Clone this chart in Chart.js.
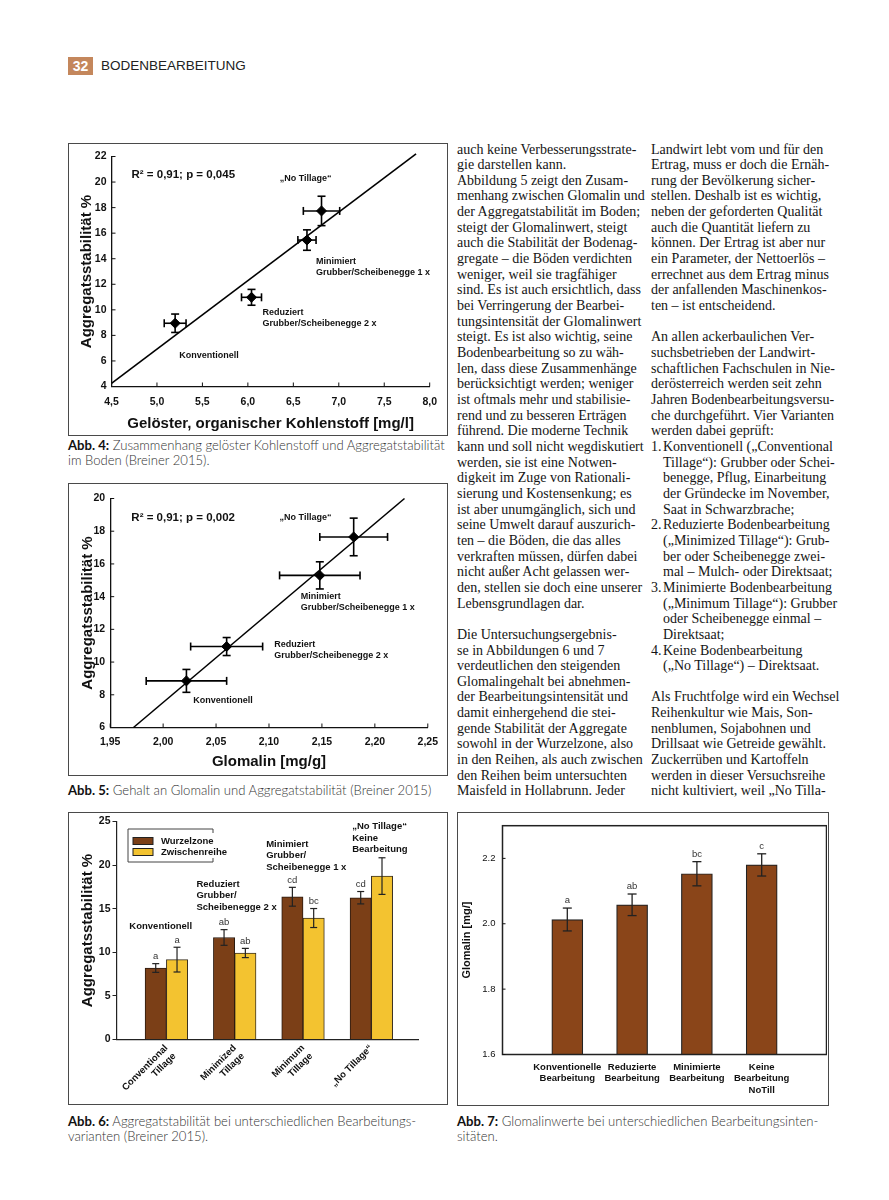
<!DOCTYPE html>
<html lang="de">
<head>
<meta charset="utf-8">
<title>Bodenbearbeitung</title>
<script src="https://cdn.jsdelivr.net/npm/chart.js@4.4.1/dist/chart.umd.min.js"></script>
<style>
  html, body { margin: 0; padding: 0; background: #fff; }
  body { width: 889px; height: 1200px; position: relative; overflow: hidden; font-family: "Liberation Sans", Arial, sans-serif; color: #1a1a1a; }
  .seite { position: absolute; left: 68px; top: 57px; width: 25px; height: 18px; background: #c4875c; color: #fff; font-weight: bold; font-size: 14px; line-height: 18px; text-align: center; }
  .rubrik { position: absolute; left: 101px; top: 57px; font-size: 13.5px; line-height: 18px; color: #222; }
  .box { position: absolute; border: 1.5px solid #4a4a4a; box-sizing: border-box; background: #fff; }
  .box canvas { position: absolute; left: 0; top: 0; }
  .cap { position: absolute; font-family: Lato, "Liberation Sans", sans-serif; font-weight: 300; font-size: 13.1px; line-height: 15px; color: #333; white-space: nowrap; }
  .cap b { color: #111; font-weight: bold; }
  .col { position: absolute; top: 141.5px; font-family: "Liberation Serif", "Times New Roman", serif; font-size: 14px; line-height: 15.67px; color: #151515; white-space: nowrap; }
  .col div { height: 15.67px; }
  .li { padding-left: 12px; }
  .li .nr { position: absolute; left: 0; }
</style>
</head>
<body>

<div class="seite">32</div>
<div class="rubrik">BODENBEARBEITUNG</div>

<div class="box" style="left:68px;top:143px;width:380px;height:293px"><canvas id="abb4" width="377" height="290"></canvas></div>
<div class="cap" style="left:68px;top:438px"><b>Abb. 4:</b> Zusammenhang gelöster Kohlenstoff und Aggregatstabilität<br>im Boden (Breiner 2015).</div>

<div class="box" style="left:68px;top:483px;width:380px;height:293px"><canvas id="abb5" width="377" height="290"></canvas></div>
<div class="cap" style="left:68px;top:782.5px"><b>Abb. 5:</b> Gehalt an Glomalin und Aggregatstabilität (Breiner 2015)</div>

<div class="box" style="left:68px;top:812px;width:380px;height:293px"><canvas id="abb6" width="377" height="290"></canvas></div>
<div class="cap" style="left:68px;top:1113.5px"><b>Abb. 6:</b> Aggregatstabilität bei unterschiedlichen Bearbeitungs-<br>varianten (Breiner 2015).</div>

<div class="box" style="left:457px;top:812px;width:372px;height:294px"><canvas id="abb7" width="369" height="291"></canvas></div>
<div class="cap" style="left:457px;top:1113.5px"><b>Abb. 7:</b> Glomalinwerte bei unterschiedlichen Bearbeitungsinten-<br>sitäten.</div>

<div class="col" style="left:457px">
<div>auch keine Verbesserungsstrate-</div>
<div>gie darstellen kann.</div>
<div>Abbildung 5 zeigt den Zusam-</div>
<div>menhang zwischen Glomalin und</div>
<div>der Aggregatstabilität im Boden;</div>
<div>steigt der Glomalinwert, steigt</div>
<div>auch die Stabilität der Bodenag-</div>
<div>gregate – die Böden verdichten</div>
<div>weniger, weil sie tragfähiger</div>
<div>sind. Es ist auch ersichtlich, dass</div>
<div>bei Verringerung der Bearbei-</div>
<div>tungsintensität der Glomalinwert</div>
<div>steigt. Es ist also wichtig, seine</div>
<div>Bodenbearbeitung so zu wäh-</div>
<div>len, dass diese Zusammenhänge</div>
<div>berücksichtigt werden; weniger</div>
<div>ist oftmals mehr und stabilisie-</div>
<div>rend und zu besseren Erträgen</div>
<div>führend. Die moderne Technik</div>
<div>kann und soll nicht wegdiskutiert</div>
<div>werden, sie ist eine Notwen-</div>
<div>digkeit im Zuge von Rationali-</div>
<div>sierung und Kostensenkung; es</div>
<div>ist aber unumgänglich, sich und</div>
<div>seine Umwelt darauf auszurich-</div>
<div>ten – die Böden, die das alles</div>
<div>verkraften müssen, dürfen dabei</div>
<div>nicht außer Acht gelassen wer-</div>
<div>den, stellen sie doch eine unserer</div>
<div>Lebensgrundlagen dar.</div>
<div></div>
<div>Die Untersuchungsergebnis-</div>
<div>se in Abbildungen 6 und 7</div>
<div>verdeutlichen den steigenden</div>
<div>Glomalingehalt bei abnehmen-</div>
<div>der Bearbeitungsintensität und</div>
<div>damit einhergehend die stei-</div>
<div>gende Stabilität der Aggregate</div>
<div>sowohl in der Wurzelzone, also</div>
<div>in den Reihen, als auch zwischen</div>
<div>den Reihen beim untersuchten</div>
<div>Maisfeld in Hollabrunn. Jeder</div>
</div>

<div class="col" style="left:651px">
<div>Landwirt lebt vom und für den</div>
<div>Ertrag, muss er doch die Ernäh-</div>
<div>rung der Bevölkerung sicher-</div>
<div>stellen. Deshalb ist es wichtig,</div>
<div>neben der geforderten Qualität</div>
<div>auch die Quantität liefern zu</div>
<div>können. Der Ertrag ist aber nur</div>
<div>ein Parameter, der Nettoerlös –</div>
<div>errechnet aus dem Ertrag minus</div>
<div>der anfallenden Maschinenkos-</div>
<div>ten – ist entscheidend.</div>
<div></div>
<div>An allen ackerbaulichen Ver-</div>
<div>suchsbetrieben der Landwirt-</div>
<div>schaftlichen Fachschulen in Nie-</div>
<div>derösterreich werden seit zehn</div>
<div>Jahren Bodenbearbeitungsversu-</div>
<div>che durchgeführt. Vier Varianten</div>
<div>werden dabei geprüft:</div>
<div class="li"><span class="nr">1.</span>Konventionell („Conventional</div>
<div class="li">Tillage“): Grubber oder Schei-</div>
<div class="li">benegge, Pflug, Einarbeitung</div>
<div class="li">der Gründecke im November,</div>
<div class="li">Saat in Schwarzbrache;</div>
<div class="li"><span class="nr">2.</span>Reduzierte Bodenbearbeitung</div>
<div class="li">(„Minimized Tillage“): Grub-</div>
<div class="li">ber oder Scheibenegge zwei-</div>
<div class="li">mal – Mulch- oder Direktsaat;</div>
<div class="li"><span class="nr">3.</span>Minimierte Bodenbearbeitung</div>
<div class="li">(„Minimum Tillage“): Grubber</div>
<div class="li">oder Scheibenegge einmal –</div>
<div class="li">Direktsaat;</div>
<div class="li"><span class="nr">4.</span>Keine Bodenbearbeitung</div>
<div class="li">(„No Tillage“) – Direktsaat.</div>
<div></div>
<div>Als Fruchtfolge wird ein Wechsel</div>
<div>Reihenkultur wie Mais, Son-</div>
<div>nenblumen, Sojabohnen und</div>
<div>Drillsaat wie Getreide gewählt.</div>
<div>Zuckerrüben und Kartoffeln</div>
<div>werden in dieser Versuchsreihe</div>
<div>nicht kultiviert, weil „No Tilla-</div>
</div>

<script>
// Abb. 4 – gelöster Kohlenstoff vs. Aggregatstabilität
const a4Kohlenstoff = [5.2, 6.04, 6.65, 6.81]
const a4KohlenstoffFehler = [0.12, 0.11, 0.1, 0.2]
const a4Stabil = [8.95, 10.98, 15.46, 17.74]
const a4StabilFehler = [0.72, 0.62, 0.8, 1.15]
const a4LinieX = [4.5, 7.85]
const a4LinieY = [4.25, 22.2]
const a4XTicks = [4.5, 5, 5.5, 6, 6.5, 7, 7.5, 8]
const a4YTicks = [4, 6, 8, 10, 12, 14, 16, 18, 20, 22]

// Abb. 5 – Glomalin vs. Aggregatstabilität
const a5Glomalin = [2.022, 2.060, 2.148, 2.180]
const a5GlomalinFehler = [0.038, 0.034, 0.038, 0.032]
const a5Stabil = [8.85, 10.95, 15.3, 17.65]
const a5StabilFehler = [0.7, 0.55, 0.83, 1.15]
const a5LinieX = [1.972, 2.228]
const a5LinieY = [6, 20]
const a5XTicks = [1.95, 2.0, 2.05, 2.1, 2.15, 2.2, 2.25]
const a5YTicks = [6, 8, 10, 12, 14, 16, 18, 20]

// Abb. 6 – Aggregatstabilität je Variante
const a6Varianten = [['Conventional', 'Tillage'], ['Minimized', 'Tillage'], ['Minimum', 'Tillage'], ['„No Tillage“']]
const a6Wurzelzone = [8.2, 11.7, 16.37, 16.26]
const a6WurzelzoneFehler = [0.5, 0.9, 1.08, 0.71]
const a6WurzelzoneSig = ['a', 'ab', 'cd', 'cd']
const a6Zwischenreihe = [9.16, 9.92, 13.93, 18.74]
const a6ZwischenreiheFehler = [1.42, 0.53, 1.09, 2.1]
const a6ZwischenreiheSig = ['a', 'ab', 'bc', '']
const a6YTicks = [0, 5, 10, 15, 20, 25]

// Abb. 7 – Glomalin je Variante
const a7Varianten = [['Konventionelle', 'Bearbeitung'], ['Reduzierte', 'Bearbeitung'], ['Minimierte', 'Bearbeitung'], ['Keine', 'Bearbeitung', 'NoTill']]
const a7Glomalin = [2.013, 2.058, 2.153, 2.18]
const a7GlomalinFehler = [0.035, 0.033, 0.037, 0.034]
const a7Sig = ['a', 'ab', 'bc', 'c']
const a7YTicks = [1.6, 1.8, 2.0, 2.2]

const SANS = '"Liberation Sans", Arial, sans-serif'
Chart.defaults.font.family = SANS
Chart.defaults.color = '#111'
Chart.defaults.animation = false

const fontB = (s) => 'bold ' + s + 'px ' + SANS
const fontN = (s) => s + 'px ' + SANS

// Fehlerbalken + Signifikanzbuchstaben
const fehlerBalken = {
  id: 'fehlerBalken',
  afterDatasetsDraw(chart) {
    const { ctx, scales: { x, y } } = chart
    chart.data.datasets.forEach((ds, i) => {
      if (!ds.errY && !ds.errX) return
      const meta = chart.getDatasetMeta(i)
      ctx.save()
      ctx.strokeStyle = ds.errColor || '#000'
      ctx.lineWidth = ds.errWidth || 1.5
      const cap = ds.errCap || 4
      const strich = (x1, y1, x2, y2) => { ctx.beginPath(); ctx.moveTo(x1, y1); ctx.lineTo(x2, y2); ctx.stroke() }
      meta.data.forEach((el, j) => {
        const roh = ds.data[j]
        const xv = roh.x
        const yv = roh.y
        const cx = el.x
        const cy = y.getPixelForValue(yv)
        let oben = cy
        if (ds.errY) {
          oben = y.getPixelForValue(yv + ds.errY[j])
          const unten = y.getPixelForValue(yv - ds.errY[j])
          strich(cx, oben, cx, unten)
          strich(cx - cap, oben, cx + cap, oben)
          strich(cx - cap, unten, cx + cap, unten)
        }
        if (ds.errX) {
          const links = x.getPixelForValue(xv - ds.errX[j])
          const rechts = x.getPixelForValue(xv + ds.errX[j])
          strich(links, cy, rechts, cy)
          strich(links, cy - cap, links, cy + cap)
          strich(rechts, cy - cap, rechts, cy + cap)
        }
        if (ds.sig && ds.sig[j]) {
          ctx.fillStyle = '#333'
          ctx.font = ds.sigFont || fontN(9)
          ctx.textAlign = 'center'
          ctx.textBaseline = 'bottom'
          ctx.fillText(ds.sig[j], cx, oben - 2.5)
        }
      })
      ctx.restore()
    })
  }
}

// Beschriftungen im Diagramm, in Datenkoordinaten
const notizen = (eintraege) => ({
  id: 'notizen',
  afterDatasetsDraw(chart) {
    const { ctx, scales: { x, y } } = chart
    eintraege.forEach(n => {
      ctx.save()
      ctx.font = n.font || fontB(9)
      ctx.fillStyle = '#111'
      ctx.textAlign = 'left'
      ctx.textBaseline = 'middle'
      const px = x.getPixelForValue(n.x)
      const py = y.getPixelForValue(n.y)
      n.text.forEach((t, k) => ctx.fillText(t, px, py + k * (n.lh || 11)))
      ctx.restore()
    })
  }
})

// Teilstriche nach innen
const innenStriche = (achsen, laenge) => ({
  id: 'innenStriche',
  afterDraw(chart) {
    const { ctx, chartArea: a } = chart
    ctx.save()
    ctx.strokeStyle = '#111'
    ctx.lineWidth = 1
    achsen.forEach(id => {
      const s = chart.scales[id]
      s.ticks.forEach(t => {
        const p = s.getPixelForValue(t.value)
        ctx.beginPath()
        if (id === 'x') { ctx.moveTo(p, a.bottom); ctx.lineTo(p, a.bottom - laenge) } else { ctx.moveTo(a.left, p); ctx.lineTo(a.left + laenge, p) }
        ctx.stroke()
      })
    })
    ctx.restore()
  }
})

const rahmen = {
  id: 'rahmen',
  afterDraw(chart) {
    const { ctx, chartArea: a } = chart
    ctx.save()
    ctx.strokeStyle = '#222'
    ctx.lineWidth = 1.5
    ctx.strokeRect(a.left, a.top, a.right - a.left, a.bottom - a.top)
    ctx.restore()
  }
}

// Legende mit offenem rechten Rand wie im Original
const legende6 = {
  id: 'legende6',
  afterDraw(chart) {
    const { ctx, chartArea: a } = chart
    const bx = a.left + 11.5, by = a.top + 7.5, bw = 85, bh = 33
    ctx.save()
    ctx.strokeStyle = '#444'
    ctx.lineWidth = 1
    ctx.beginPath()
    ctx.moveTo(bx + bw, by + 4); ctx.lineTo(bx + bw, by); ctx.lineTo(bx, by); ctx.lineTo(bx, by + bh); ctx.lineTo(bx + bw, by + bh); ctx.lineTo(bx + bw, by + bh - 4)
    ctx.stroke()
    chart.data.datasets.forEach((ds, i) => {
      const sy = by + 8.5 + i * 11
      ctx.fillStyle = ds.backgroundColor
      ctx.fillRect(bx + 5, sy, 20, 7)
      ctx.strokeStyle = '#222'
      ctx.strokeRect(bx + 5, sy, 20, 7)
      ctx.fillStyle = '#111'
      ctx.font = fontB(9.5)
      ctx.textAlign = 'left'
      ctx.textBaseline = 'middle'
      ctx.fillText(ds.label, bx + 33, sy + 3.5)
    })
    ctx.restore()
  }
}

const setzeTicks = (liste) => (s) => { s.ticks = liste.map(v => ({ value: v })) }
const breite = (w) => (s) => { s.width = w }
const hoehe = (h) => (s) => { s.height = h }

const streuDiagramm = (id, xs, xErr, ys, yErr, linX, linY, xTicks, yTicks, xFmt, xTitel, rand, notes) => {
  new Chart(document.getElementById(id), {
    type: 'scatter',
    data: {
      datasets: [
        {
          data: linX.map((x, i) => ({ x, y: linY[i] })),
          showLine: true, borderColor: '#000', borderWidth: 1.6, pointRadius: 0, clip: false
        },
        {
          data: xs.map((x, i) => ({ x, y: ys[i] })),
          errX: xErr, errY: yErr, errCap: 4, errWidth: 1.6,
          pointStyle: 'rectRot', pointRadius: 5, backgroundColor: '#000', borderColor: '#000'
        }
      ]
    },
    options: {
      responsive: false,
      layout: { padding: { left: rand.left, top: rand.top, right: rand.right, bottom: 0 } },
      plugins: { legend: { display: false }, tooltip: { enabled: false } },
      scales: {
        x: {
          type: 'linear', min: xTicks[0], max: xTicks[xTicks.length - 1],
          afterBuildTicks: setzeTicks(xTicks), afterFit: hoehe(rand.xh),
          grid: { display: false, drawTicks: false }, border: { color: '#111', width: 1.3 },
          ticks: { font: { size: 10.5, weight: 'bold' }, padding: rand.xpad, callback: xFmt, autoSkip: false, maxRotation: 0 },
          title: { display: true, text: xTitel, font: { size: 15, weight: 'bold' }, padding: { top: 0, bottom: rand.tpad } }
        },
        y: {
          type: 'linear', min: yTicks[0], max: yTicks[yTicks.length - 1],
          afterBuildTicks: setzeTicks(yTicks), afterFit: breite(rand.yw),
          grid: { display: false, drawTicks: false }, border: { color: '#111', width: 1.3 },
          ticks: { font: { size: 10.5, weight: 'bold' }, padding: 5, autoSkip: false },
          title: { display: true, text: 'Aggregatsstabilität %', font: { size: 15, weight: 'bold' }, padding: 0 }
        }
      }
    },
    plugins: [fehlerBalken, notizen(notes), innenStriche(['x', 'y'], 4)]
  })
}

streuDiagramm('abb4', a4Kohlenstoff, a4KohlenstoffFehler, a4Stabil, a4StabilFehler, a4LinieX, a4LinieY,
  a4XTicks, a4YTicks, v => v.toFixed(1).replace('.', ','), 'Gelöster, organischer Kohlenstoff [mg/l]',
  { left: 8.5, top: 12.5, right: 10.5, yw: 34, xh: 47.5, xpad: 9, tpad: 1 },
  [
    { x: 4.72, y: 20.6, text: ['R² = 0,91; p = 0,045'], font: fontB(11.5) },
    { x: 6.35, y: 20.28, text: ['„No Tillage“'] },
    { x: 6.75, y: 13.78, text: ['Minimiert', 'Grubber/Scheibenegge 1 x'] },
    { x: 6.16, y: 9.8, text: ['Reduziert', 'Grubber/Scheibenegge 2 x'] },
    { x: 5.245, y: 6.43, text: ['Konventionell'] }
  ])

streuDiagramm('abb5', a5Glomalin, a5GlomalinFehler, a5Stabil, a5StabilFehler, a5LinieX, a5LinieY,
  a5XTicks, a5YTicks, v => v.toFixed(2).replace('.', ','), 'Glomalin [mg/g]',
  { left: 9.5, top: 14.5, right: 13.5, yw: 31.7, xh: 46.5, xpad: 8, tpad: 3 },
  [
    { x: 1.970, y: 18.84, text: ['R² = 0,91; p = 0,002'], font: fontB(11.5) },
    { x: 2.110, y: 18.84, text: ['„No Tillage“'] },
    { x: 2.130, y: 14.0, text: ['Minimiert', 'Grubber/Scheibenegge 1 x'] },
    { x: 2.105, y: 11.08, text: ['Reduziert', 'Grubber/Scheibenegge 2 x'] },
    { x: 2.0285, y: 7.65, text: ['Konventionell'] }
  ])

// Abb. 6
new Chart(document.getElementById('abb6'), {
  type: 'bar',
  data: {
    datasets: [
      {
        label: 'Wurzelzone', data: a6Wurzelzone.map((v, i) => ({ x: i + 1, y: v })),
        backgroundColor: '#7b3f17', borderColor: '#2a1a10', borderWidth: 1, borderSkipped: 'start',
        errY: a6WurzelzoneFehler, errCap: 3.5, errWidth: 1.2, errColor: '#222', sig: a6WurzelzoneSig, sigFont: fontN(9.5)
      },
      {
        label: 'Zwischenreihe', data: a6Zwischenreihe.map((v, i) => ({ x: i + 1, y: v })),
        backgroundColor: '#f3c330', borderColor: '#3a3020', borderWidth: 1, borderSkipped: 'start',
        errY: a6ZwischenreiheFehler, errCap: 3.5, errWidth: 1.2, errColor: '#222', sig: a6ZwischenreiheSig, sigFont: fontN(9.5)
      }
    ]
  },
  options: {
    responsive: false,
    barThickness: 21.3,
    layout: { padding: { left: 9.5, top: 8.5, right: 27.5, bottom: 0 } },
    plugins: { legend: { display: false }, tooltip: { enabled: false } },
    scales: {
      x: {
        type: 'linear', min: 0.27, max: 4.69, offset: false,
        afterBuildTicks: setzeTicks([1, 2, 3, 4]), afterFit: hoehe(63.5),
        grid: { display: false, drawTicks: false }, border: { color: '#222', width: 1.2 },
        ticks: { font: { size: 9.5, weight: 'bold' }, padding: 3, minRotation: 45, maxRotation: 45, autoSkip: false, callback: v => a6Varianten[v - 1] }
      },
      y: {
        min: 0, max: 25,
        afterBuildTicks: setzeTicks(a6YTicks), afterFit: breite(38),
        grid: { display: true, drawOnChartArea: false, tickLength: 4, color: '#222' }, border: { color: '#222', width: 1.2 },
        ticks: { font: { size: 10.5, weight: 'bold' }, padding: 2, autoSkip: false },
        title: { display: true, text: 'Aggregatsstabilität %', font: { size: 15, weight: 'bold' }, padding: 0 }
      }
    }
  },
  plugins: [fehlerBalken, legende6, notizen([
    { x: 0.458, y: 12.96, text: ['Konventionell'], font: fontB(9.5) },
    { x: 1.44, y: 17.8, text: ['Reduziert', 'Grubber/', 'Scheibenegge 2 x'], font: fontB(9.5), lh: 11.5 },
    { x: 2.46, y: 22.4, text: ['Minimiert', 'Grubber/', 'Scheibenegge 1 x'], font: fontB(9.5), lh: 11.5 },
    { x: 3.72, y: 24.4, text: ['„No Tillage“', 'Keine', 'Bearbeitung'], font: fontB(9.5), lh: 11.5 }
  ])]
})

// Abb. 7
new Chart(document.getElementById('abb7'), {
  type: 'bar',
  data: {
    datasets: [{
      label: 'Glomalin', data: a7Glomalin.map((v, i) => ({ x: i + 1, y: v })),
      backgroundColor: '#8a4519', borderColor: '#222', borderWidth: 1.2, borderSkipped: 'start',
      errY: a7GlomalinFehler, errCap: 4.5, errWidth: 1.3, errColor: '#222', sig: a7Sig, sigFont: fontN(9.5)
    }]
  },
  options: {
    responsive: false,
    barThickness: 31,
    layout: { padding: { left: 2, top: 7.5, right: 0.5, bottom: 0 } },
    plugins: { legend: { display: false }, tooltip: { enabled: false } },
    scales: {
      x: {
        type: 'linear', min: 0, max: 5, offset: false,
        afterBuildTicks: setzeTicks([1, 2, 3, 4]), afterFit: hoehe(49.5),
        grid: { display: false, drawTicks: false }, border: { display: false },
        ticks: { font: { size: 9.5, weight: 'bold' }, padding: 7, maxRotation: 0, autoSkip: false, callback: v => a7Varianten[v - 1] }
      },
      y: {
        min: 1.6, max: 2.3,
        afterBuildTicks: setzeTicks(a7YTicks), afterFit: breite(42.5),
        grid: { display: false, drawTicks: false }, border: { display: false },
        ticks: { font: { size: 9.5 }, padding: 7, autoSkip: false, callback: v => v.toFixed(1) },
        title: { display: true, text: 'Glomalin [mg/]', font: { size: 11, weight: 'bold' }, padding: 0 }
      }
    }
  },
  plugins: [rahmen, fehlerBalken, innenStriche(['y'], 3)]
})
</script>
</body>
</html>
